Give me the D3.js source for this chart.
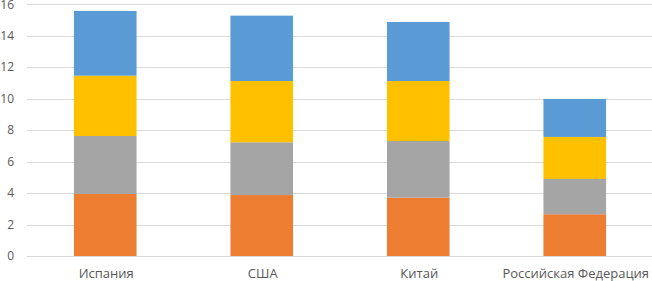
<!DOCTYPE html>
<html>
<head>
<meta charset="utf-8">
<script src="https://cdn.jsdelivr.net/npm/d3@7"></script>
<style>
  body { margin: 0; background: #fff; }
  svg { display: block; }
</style>
</head>
<body>
<div id="chart"></div>
<script>
{
  const categories = ["Испания", "США", "Китай", "Российская Федерация"];
  const seriesNames = ["s1", "s2", "s3", "s4"];
  const s1 = [3.94, 3.87, 3.70, 2.65];
  const s2 = [3.68, 3.35, 3.60, 2.24];
  const s3 = [3.83, 3.89, 3.81, 2.67];
  const s4 = [4.11, 4.15, 3.75, 2.41];
  const yTicks = [0, 2, 4, 6, 8, 10, 12, 14, 16];

  const colors = ["#ED7D31", "#A5A5A5", "#FFC000", "#5B9BD5"];

  const width = 652;
  const height = 281;

  const svg = d3.select("#chart")
    .append("svg")
    .attr("width", width)
    .attr("height", height);

  const x = d3.scaleBand()
    .domain(categories)
    .range([27, 653])
    .paddingInner(0.6)
    .paddingOuter(0.3);

  const y = d3.scaleLinear()
    .domain([0, 16])
    .range([256, 4]);

  const rows = categories.map((c, i) => ({ cat: c, s1: s1[i], s2: s2[i], s3: s3[i], s4: s4[i] }));
  const stacked = d3.stack().keys(seriesNames)(rows);

  // grid
  svg.append("g")
    .selectAll("line")
    .data(yTicks)
    .enter()
    .append("line")
    .attr("x1", 27)
    .attr("x2", width)
    .attr("y1", d => Math.round(y(d)) + 0.5)
    .attr("y2", d => Math.round(y(d)) + 0.5)
    .attr("stroke", "#D9D9D9")
    .attr("stroke-width", 1);

  svg.append("g")
    .selectAll("text")
    .data(yTicks)
    .enter()
    .append("text")
    .attr("x", 14)
    .attr("y", d => Math.max(y(d), 5))
    .attr("dy", "0.35em")
    .attr("text-anchor", "end")
    .attr("font-family", "Open Sans, sans-serif")
    .attr("font-size", 12)
    .attr("fill", "#595959")
    .text(d => d);

  svg.append("g")
    .selectAll("g")
    .data(stacked)
    .enter()
    .append("g")
    .attr("fill", (d, i) => colors[i])
    .selectAll("rect")
    .data(d => d)
    .enter()
    .append("rect")
    .attr("x", d => x(d.data.cat))
    .attr("width", x.bandwidth())
    .attr("y", d => y(d[1]))
    .attr("height", d => y(d[0]) - y(d[1]));

  svg.append("g")
    .selectAll("text")
    .data(categories)
    .enter()
    .append("text")
    .attr("x", d => x(d) + x.bandwidth() / 2 + 1)
    .attr("y", 278)
    .attr("text-anchor", "middle")
    .attr("font-family", "Open Sans, sans-serif")
    .attr("font-size", 13)
    .attr("fill", "#595959")
    .text(d => d);
}
</script>
</body>
</html>
